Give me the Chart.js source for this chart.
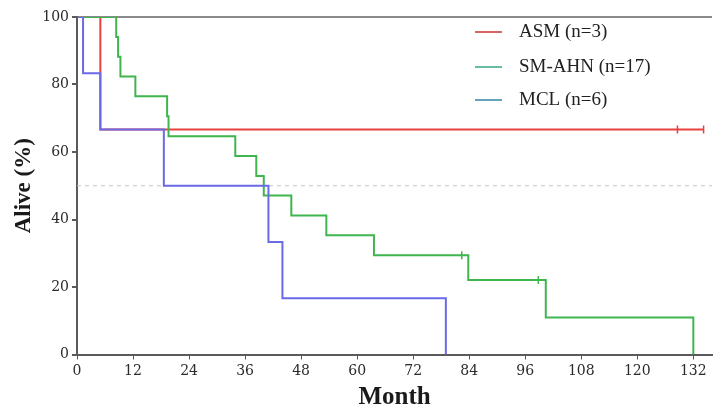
<!DOCTYPE html>
<html lang="en">
<head>
  <meta charset="UTF-8" />
  <title>Overall survival by subtype</title>
  <script src="https://cdn.jsdelivr.net/npm/chart.js@4.4.0/dist/chart.umd.min.js"></script>
  <style>
    body { margin: 0; background: #fff; }
    #chart-container { position: relative; width: 724px; height: 405px; }
  </style>
</head>
<body>
  <div id="chart-container"><canvas id="kmChart"></canvas></div>
  <script>
    // Kaplan-Meier steps: month of each step and % alive after it
    const asmMonths = [0, 5, 134.2];
    const asmAlive = [100, 66.7, 66.7];
    const asmCensorMonths = [128.6, 134.2];
    const asmCensorAlive = [66.7, 66.7];

    const ahnMonths = [0, 8.4, 8.8, 9.3, 12.5, 19.3, 19.6, 33.9, 38.4, 40.0, 45.9, 53.4, 63.6, 83.8, 100.4, 132];
    const ahnAlive = [100, 94.1, 88.2, 82.4, 76.5, 70.6, 64.7, 58.8, 52.9, 47.1, 41.2, 35.3, 29.4, 22.1, 11.0, 0];
    const ahnCensorMonths = [82.4, 98.8];
    const ahnCensorAlive = [29.4, 22.1];

    const mclMonths = [0, 1.3, 5, 18.6, 41, 44, 79];
    const mclAlive = [100, 83.3, 66.7, 50, 33.3, 16.7, 0];

    const medianMonths = [0, 136];
    const medianAlive = [50, 50];

    const legendLabels = ['ASM (n=3)', 'SM-AHN (n=17)', 'MCL (n=6)'];
    const xTitle = 'Month';
    const yTitle = 'Alive (%)';

    const lineColors = ['#e8403f', '#3fb54e', '#6a6ae6'];
    const legendColors = ['#c8352e', '#35a684', '#2f84a4'];

    const pts = (xs, ys) => xs.map((x, i) => ({ x: x, y: ys[i] }));

    const stepLine = (data, color) => ({
      data: data,
      stepped: 'before',
      borderColor: color,
      borderWidth: 2,
      pointRadius: 0,
      fill: false
    });
    const censors = (data, color) => ({
      data: data,
      showLine: false,
      pointStyle: 'line',
      rotation: 90,
      pointRadius: 4,
      borderColor: color,
      borderWidth: 1.5
    });

    // legend drawn by hand in the upper right corner
    const kmLegend = {
      id: 'kmLegend',
      afterDraw(chart) {
        const ctx = chart.ctx;
        const rows = [32, 67, 100];
        ctx.save();
        ctx.font = '19px "Liberation Serif"';
        ctx.textBaseline = 'middle';
        ctx.textAlign = 'left';
        legendLabels.forEach((label, i) => {
          ctx.strokeStyle = legendColors[i];
          ctx.lineWidth = 1.5;
          ctx.beginPath();
          ctx.moveTo(475, rows[i]);
          ctx.lineTo(502, rows[i]);
          ctx.stroke();
          ctx.fillStyle = '#222';
          ctx.fillText(label, 519, rows[i]);
        });
        ctx.restore();
      }
    };

    // first dataset is drawn on top: censor marks, then blue over green over red
    new Chart(document.getElementById('kmChart'), {
      type: 'line',
      data: {
        datasets: [
          censors(pts(asmCensorMonths, asmCensorAlive), lineColors[0]),
          censors(pts(ahnCensorMonths, ahnCensorAlive), lineColors[1]),
          stepLine(pts(mclMonths, mclAlive), lineColors[2]),
          stepLine(pts(ahnMonths, ahnAlive), lineColors[1]),
          stepLine(pts(asmMonths, asmAlive), lineColors[0]),
          {
            data: pts(medianMonths, medianAlive),
            borderColor: '#c4c4c4',
            borderWidth: 1,
            borderDash: [4, 4],
            pointRadius: 0
          }
        ]
      },
      options: {
        responsive: true,
        maintainAspectRatio: false,
        animation: false,
        layout: { padding: { left: 0, right: 12, top: 17, bottom: 0 } },
        plugins: {
          legend: { display: false },
          tooltip: { enabled: false }
        },
        scales: {
          x: {
            type: 'linear',
            min: 0,
            max: 136,
            afterFit(scale) { scale.height = 50.5; },
            border: { color: '#5a5a5a', width: 2 },
            grid: { color: 'transparent', tickColor: '#5a5a5a', tickLength: 5, drawOnChartArea: false },
            ticks: {
              stepSize: 12,
              includeBounds: false,
              padding: 3,
              color: '#2a2a2a',
              font: { family: '"DejaVu Serif"', size: 14 }
            },
            title: {
              display: true,
              text: xTitle,
              color: '#1a1a1a',
              font: { family: '"Liberation Serif"', size: 25, weight: 'bold', lineHeight: 0.6 },
              padding: { top: 0, bottom: 0 }
            }
          },
          y: {
            min: 0,
            max: 100,
            afterFit(scale) { scale.width = 77; },
            border: { color: '#5a5a5a', width: 2 },
            grid: {
              color: ctx => ctx.tick && ctx.tick.value === 100 ? '#8a8a8a' : 'transparent',
              lineWidth: 2,
              tickColor: '#5a5a5a',
              tickLength: 5
            },
            ticks: {
              stepSize: 20,
              padding: 3,
              color: '#2a2a2a',
              font: { family: '"DejaVu Serif"', size: 14 }
            },
            title: {
              display: true,
              text: yTitle,
              color: '#1a1a1a',
              font: { family: '"Liberation Serif"', size: 23, weight: 'bold', lineHeight: 1.2 },
              padding: { top: 10, bottom: 0 }
            }
          }
        }
      },
      plugins: [kmLegend]
    });
  </script>
</body>
</html>
